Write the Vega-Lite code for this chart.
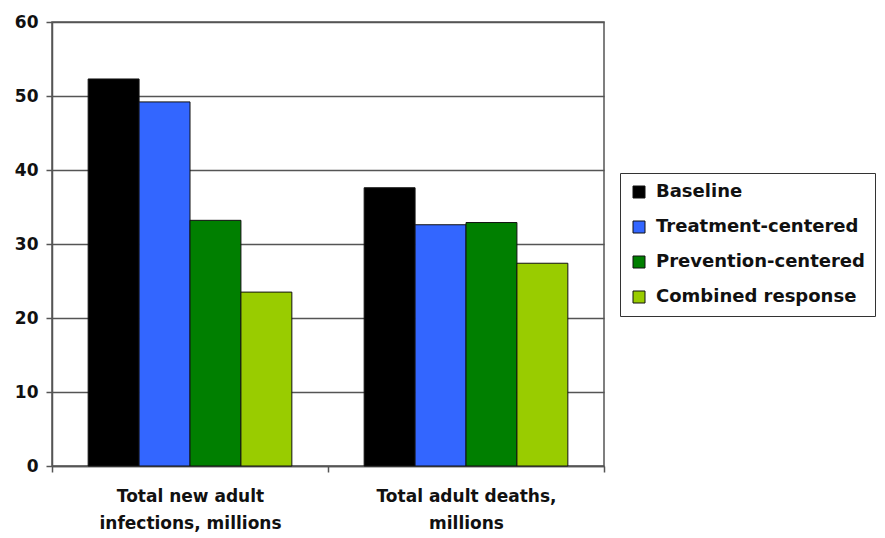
{
  "$schema": "https://vega.github.io/schema/vega-lite/v6.json",
  "autosize": "none",
  "width": 552,
  "height": 444,
  "padding": {"left": 52, "top": 22, "right": 281, "bottom": 72},
  "background": "white",
  "config": {
    "font": "DejaVu Sans",
    "view": {"stroke": "#555555", "strokeWidth": 1.5}
  },
  "data": {
    "values": [
      {"measure": "Total new adult infections, millions", "scenario": "Baseline", "value": 52.3},
      {"measure": "Total new adult infections, millions", "scenario": "Treatment-centered", "value": 49.2},
      {"measure": "Total new adult infections, millions", "scenario": "Prevention-centered", "value": 33.2},
      {"measure": "Total new adult infections, millions", "scenario": "Combined response", "value": 23.5},
      {"measure": "Total adult deaths, millions", "scenario": "Baseline", "value": 37.6},
      {"measure": "Total adult deaths, millions", "scenario": "Treatment-centered", "value": 32.6},
      {"measure": "Total adult deaths, millions", "scenario": "Prevention-centered", "value": 32.9},
      {"measure": "Total adult deaths, millions", "scenario": "Combined response", "value": 27.4}
    ]
  },
  "mark": {"type": "bar", "stroke": "#111111", "strokeWidth": 1},
  "encoding": {
    "x": {
      "field": "measure",
      "type": "nominal",
      "sort": ["Total new adult infections, millions", "Total adult deaths, millions"],
      "scale": {"paddingInner": 0, "paddingOuter": 0},
      "axis": {
        "title": null,
        "labelAngle": 0,
        "labelFontSize": 17,
        "labelFontWeight": "bold",
        "labelColor": "#111111",
        "labelLimit": 300,
        "labelPadding": 16,
        "labelLineHeight": 27,
        "labelExpr": "datum.label == '' ? '' : (datum.value == 'Total new adult infections, millions' ? ['Total new adult', 'infections, millions'] : ['Total adult deaths,', 'millions'])",
        "tickBand": "extent",
        "tickSize": 6,
        "tickColor": "#555555",
        "tickWidth": 1.5,
        "domainColor": "#555555",
        "domainWidth": 1.5
      }
    },
    "xOffset": {
      "field": "scenario",
      "type": "nominal",
      "sort": ["Baseline", "Treatment-centered", "Prevention-centered", "Combined response"],
      "scale": {"paddingInner": 0, "paddingOuter": 0.71}
    },
    "y": {
      "field": "value",
      "type": "quantitative",
      "scale": {"domain": [0, 60]},
      "axis": {
        "title": null,
        "values": [0, 10, 20, 30, 40, 50, 60],
        "labelFontSize": 17,
        "labelFontWeight": "bold",
        "labelColor": "#111111",
        "labelPadding": 8,
        "tickSize": 6,
        "tickColor": "#555555",
        "tickWidth": 1.5,
        "domainColor": "#555555",
        "domainWidth": 1.5,
        "grid": true,
        "gridColor": "#555555",
        "gridWidth": 1.5
      }
    },
    "color": {
      "field": "scenario",
      "type": "nominal",
      "sort": ["Baseline", "Treatment-centered", "Prevention-centered", "Combined response"],
      "scale": {
        "domain": ["Baseline", "Treatment-centered", "Prevention-centered", "Combined response"],
        "range": ["#000000", "#3366FF", "#007F00", "#99CC00"]
      },
      "legend": {
        "title": null,
        "orient": "none",
        "legendX": 568,
        "legendY": 151,
        "labelFontSize": 18,
        "labelFontWeight": "bold",
        "labelColor": "#111111",
        "labelLimit": 300,
        "symbolType": "square",
        "symbolSize": 144,
        "symbolStrokeColor": "#111111",
        "symbolStrokeWidth": 1,
        "rowPadding": 17,
        "padding": 10,
        "strokeColor": "#333333",
        "fillColor": "white",
        "labelOffset": 8
      }
    }
  }
}
